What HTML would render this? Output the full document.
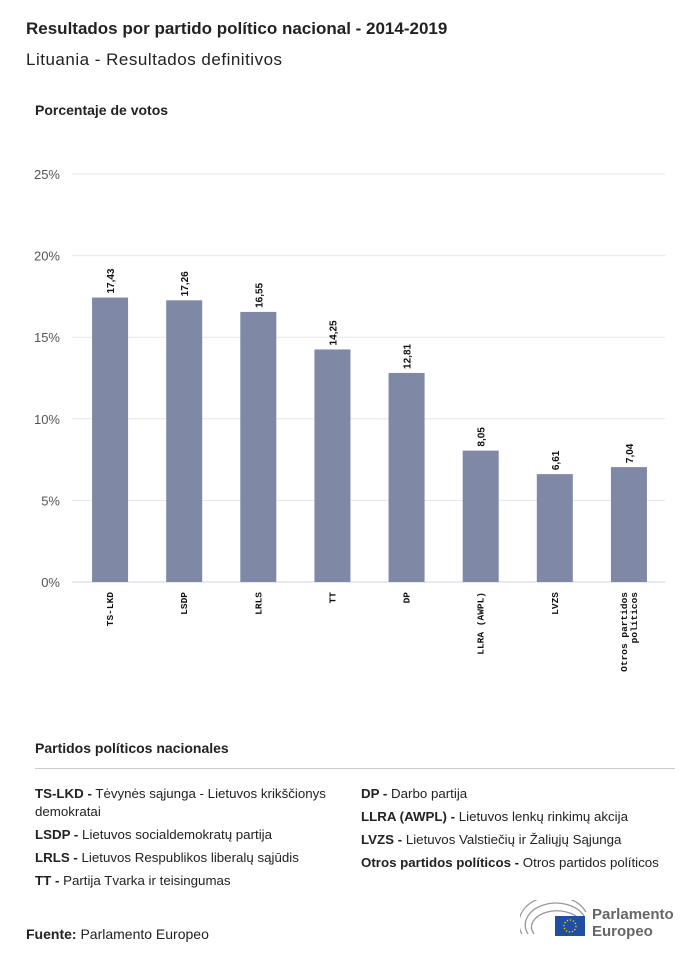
<!DOCTYPE html>
<html><head><meta charset="utf-8"><style>
body{margin:0;width:700px;height:959px;background:#fff;font-family:"Liberation Sans",sans-serif;color:#222;position:relative;overflow:hidden}
.a{position:absolute;margin:0}
.leg{font-size:13.3px;line-height:18px}
.leg b{font-weight:bold}
</style></head><body>
<h1 class="a" style="left:26px;top:19px;font-size:17px;font-weight:bold">Resultados por partido político nacional - 2014-2019</h1>
<div class="a" style="left:26px;top:50px;font-size:17px;letter-spacing:0.5px">Lituania - Resultados definitivos</div>
<div class="a" style="left:35px;top:102px;font-size:14px;font-weight:bold">Porcentaje de votos</div>
<svg class="a" style="left:0;top:0" width="700" height="700" id="chart"></svg>
<div class="a" style="left:35px;top:740px;font-size:14px;font-weight:bold">Partidos políticos nacionales</div>
<div class="a" style="left:35px;top:768px;width:640px;height:1px;background:#ccc"></div>
<div class="a leg" style="left:35px;top:785px;width:320px">
<div><b>TS-LKD -</b> Tėvynės sąjunga - Lietuvos krikščionys demokratai</div>
<div style="margin-top:5px"><b>LSDP -</b> Lietuvos socialdemokratų partija</div>
<div style="margin-top:5px"><b>LRLS -</b> Lietuvos Respublikos liberalų sąjūdis</div>
<div style="margin-top:5px"><b>TT -</b> Partija Tvarka ir teisingumas</div>
</div>
<div class="a leg" style="left:361px;top:785px;width:330px">
<div><b>DP -</b> Darbo partija</div>
<div style="margin-top:5px"><b>LLRA (AWPL) -</b> Lietuvos lenkų rinkimų akcija</div>
<div style="margin-top:5px"><b>LVZS -</b> Lietuvos Valstiečių ir Žaliųjų Sąjunga</div>
<div style="margin-top:5px"><b>Otros partidos políticos -</b> Otros partidos políticos</div>
</div>
<div class="a" style="left:26px;top:926px;font-size:14px"><b>Fuente:</b> Parlamento Europeo</div>
<div class="a" style="left:520px;top:900px;width:170px;height:40px">
<svg width="70" height="40" style="position:absolute;left:0;top:0">
<g fill="none" stroke="#999" stroke-width="1.3">
<path d="M2 34 A34 26 0 0 1 66 12"/><path d="M8 34 A28 20 0 0 1 64 16"/><path d="M14 34 A22 14 0 0 1 60 20"/>
</g>
<rect x="35" y="16" width="30" height="20" fill="#1f4ea3"/>
<circle cx="50" cy="26" r="6" fill="none" stroke="#fc0" stroke-width="1.3" stroke-dasharray="1.3 1.8"/>
</svg>
<div style="position:absolute;left:72px;top:6px;font-size:15px;font-weight:bold;color:#666;line-height:17px">Parlamento<br>Europeo</div>
</div>
<script>
const categories=["TS-LKD","LSDP","LRLS","TT","DP","LLRA (AWPL)","LVZS","Otros partidos|políticos"];
const values=[17.43,17.26,16.55,14.25,12.81,8.05,6.61,7.04];
const valueLabels=["17,43","17,26","16,55","14,25","12,81","8,05","6,61","7,04"];
const yTicks=[0,5,10,15,20,25];
const svg=document.getElementById('chart');const NS="http://www.w3.org/2000/svg";
const x0=72,x1=665,yb=582,yt=174,ymax=25;
const y=v=>yb-(v/ymax)*(yb-yt);
const step=(x1-x0)/categories.length;
const xc=i=>x0+step*(i+0.5)+1;
function mk(t,a){const e=document.createElementNS(NS,t);for(const k in a)e.setAttribute(k,a[k]);svg.appendChild(e);return e;}
yTicks.forEach(t=>{
 const g=mk('line',{x1:x0,x2:x1,y1:y(t),y2:y(t),stroke:t?'#e6e6e6':'#ccd6eb','stroke-width':1});
 
 
 const l=mk('text',{x:60,y:y(t)+5,'text-anchor':'end','font-size':13,fill:'#555','font-family':'Liberation Sans'});
 l.textContent=t+'%';
 
 
});
categories.forEach((c,i)=>{
 const bw=36,cx=xc(i);
 const r=mk('rect',{x:cx-bw/2,y:y(values[i]),width:bw,height:yb-y(values[i]),fill:'#7f88a4'});
 
 
 const vl=mk('text',{transform:`translate(${cx+4},${y(values[i])-4}) rotate(-90)`,'font-size':10,'font-weight':'bold',fill:'#111','font-family':'Liberation Sans'});
 vl.textContent=valueLabels[i];
 
 
 const parts=c.split('|');
 parts.forEach((p,j)=>{
  const off=(j-(parts.length-1)/2)*10;
  const tl=mk('text',{transform:`translate(${cx+3+off},592) rotate(-90)`,'text-anchor':'end','font-size':9.5,'font-weight':'bold',fill:'#111','font-family':'Liberation Mono'});
  tl.textContent=p;
  
  
 });
});
</script>
</body></html>
